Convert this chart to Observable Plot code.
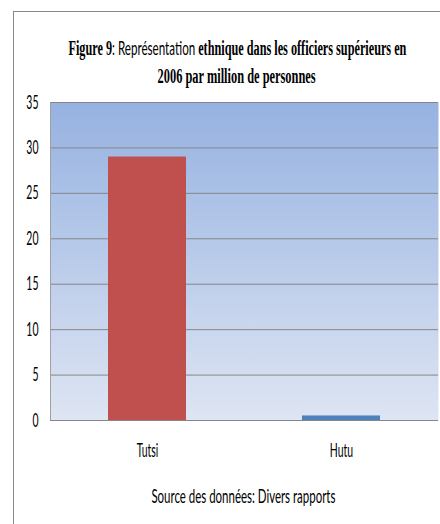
<!DOCTYPE html>
<html><head><meta charset="utf-8">
<script src="https://cdn.jsdelivr.net/npm/d3@7"></script>
<script src="https://cdn.jsdelivr.net/npm/@observablehq/plot@0.6"></script>
<style>
html,body{margin:0;padding:0;background:#fff}
body{width:440px;height:524px;overflow:hidden;position:relative;font-family:Lato,"Open Sans",sans-serif;color:#000}
#box{position:absolute;left:13px;top:11px;width:600px;height:600px;border:1px solid #8a8a8a;box-sizing:border-box}
.line{position:absolute;width:1000px;text-align:center;white-space:nowrap;line-height:22px}
.line .w{display:inline-block;transform-origin:center center}
.serif{font-family:"Liberation Serif","DejaVu Serif",serif;font-weight:bold;font-size:20px}
.sans{font-family:Lato,"Open Sans",sans-serif;font-weight:normal;font-size:19px}
#chart{position:absolute;left:0;top:90px}
</style>
</head><body>
<div id="box"></div>
<div class="line" id="t1" style="left:-263px;top:37px"><span class="w" data-target="338"><span class="serif">Figure 9</span><span class="sans">: Représentation </span><span class="serif">ethnique dans les officiers supérieurs en</span></span></div>
<div class="line" id="t2" style="left:-263px;top:65px"><span class="w" data-target="158"><span class="serif">2006 par million de personnes</span></span></div>
<div id="chart"></div>
<div class="line" id="cap" style="left:-257px;top:485px"><span class="w sans" data-target="184">Source des données: Divers rapports</span></div>
<script>
const categories = ["Tutsi", "Hutu"];
const values = [29, 0.5];
const barColors = ["#C0504D", "#4F81BD"];
const yTicks = [0, 5, 10, 15, 20, 25, 30, 35];

const data = categories.map((c, i) => ({cat: c, value: values[i], color: barColors[i]}));

const gradientDefs = () => {
  const ns = "http://www.w3.org/2000/svg";
  const defs = document.createElementNS(ns, "defs");
  const lg = document.createElementNS(ns, "linearGradient");
  lg.setAttribute("id", "bg");
  lg.setAttribute("x1", "0"); lg.setAttribute("y1", "0");
  lg.setAttribute("x2", "0"); lg.setAttribute("y2", "1");
  [["0", "#96B2E1"], ["1", "#DEE5F3"]].forEach(([o, c]) => {
    const s = document.createElementNS(ns, "stop");
    s.setAttribute("offset", o); s.setAttribute("stop-color", c);
    lg.appendChild(s);
  });
  defs.appendChild(lg);
  return defs;
};

const leftLine = (index, scales, values, dims) => {
  const ns = "http://www.w3.org/2000/svg";
  const l = document.createElementNS(ns, "line");
  const x = dims.marginLeft + 0.5;
  l.setAttribute("x1", x); l.setAttribute("x2", x);
  l.setAttribute("y1", dims.marginTop); l.setAttribute("y2", dims.height - dims.marginBottom);
  l.setAttribute("stroke", "#a0a0a0");
  return l;
};

const chart = Plot.plot({
  width: 440,
  height: 375,
  marginTop: 12,
  marginBottom: 45,
  marginLeft: 50,
  marginRight: 2,
  style: {fontFamily: "Lato, 'Open Sans', sans-serif", fontSize: "19px", color: "#000", background: "transparent", overflow: "visible"},
  x: {domain: categories, padding: 0, label: null, tickSize: 0, tickPadding: 23},
  y: {domain: [0, 35], ticks: yTicks, label: null, tickSize: 0, tickPadding: 12},
  color: {type: "identity"},
  marks: [
    gradientDefs,
    Plot.frame({fill: "url(#bg)", stroke: null}),
    Plot.ruleY(yTicks, {stroke: "#868686", strokeWidth: 1}),
    Plot.barY(data, {x: "cat", y: "value", fill: "color", insetLeft: 58, insetRight: 58}),
    leftLine
  ]
});
document.getElementById("chart").appendChild(chart);

// horizontally condense the axis labels
chart.querySelectorAll("text").forEach(t => {
  const len = t.getComputedTextLength();
  if (len > 0) {
    t.setAttribute("textLength", (len * 0.55).toFixed(2));
    t.setAttribute("lengthAdjust", "spacingAndGlyphs");
  }
});

// horizontally condense title and caption
document.querySelectorAll(".w").forEach(el => {
  const target = +el.dataset.target;
  const w = el.getBoundingClientRect().width;
  if (w > 0) el.style.transform = `scaleX(${target / w})`;
});
</script>
</body></html>
